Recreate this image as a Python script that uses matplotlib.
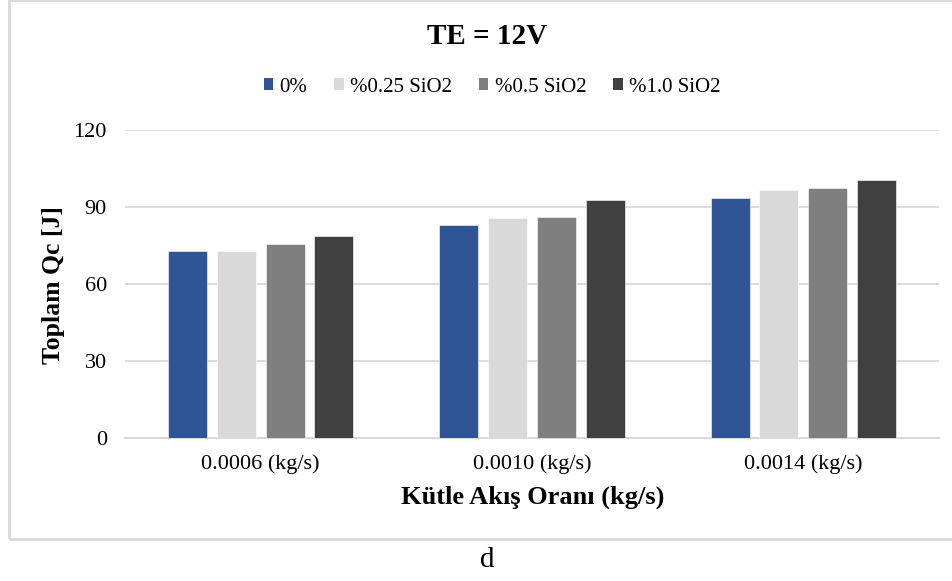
import matplotlib
matplotlib.use("Agg")
import matplotlib.pyplot as plt
from matplotlib.patches import Patch, Rectangle
import numpy as np

categories = ["0.0006 (kg/s)", "0.0010 (kg/s)", "0.0014 (kg/s)"]
series_names = ["0%", "%0.25 SiO2", "%0.5 SiO2", "%1.0 SiO2"]
values_0 = [73.0, 82.9, 93.5]
values_025 = [73.0, 85.7, 96.5]
values_05 = [75.4, 86.1, 97.3]
values_10 = [78.7, 92.7, 100.5]
colors = ["#2F5597", "#D9D9D9", "#7F7F7F", "#404040"]
yticks = [0, 30, 60, 90, 120]

plt.rcParams['font.family'] = ['Liberation Serif', 'DejaVu Serif']

W, H = 953, 581
fig = plt.figure(figsize=(W / 100, H / 100), dpi=100)

def fx(px):
    return px / W

def fy(py):
    return 1 - py / H

# outer chart frame
fig.patches.append(Rectangle((fx(9), fy(539)), fx(960) - fx(9), fy(0) - fy(539),
                             transform=fig.transFigure, fill=False,
                             edgecolor="#D9D9D9", linewidth=2, zorder=0))

ax = fig.add_axes([fx(125), fy(438), fx(939) - fx(125), fy(130) - fy(438)])

all_series = [values_0, values_025, values_05, values_10]
x = np.arange(len(categories))
pitch = 0.18
width = 0.1435
for j, (vals, col) in enumerate(zip(all_series, colors)):
    ax.bar(x + (j - 1.5) * pitch, vals, width=width, color=col, zorder=3,
           edgecolor="white", linewidth=0.4)

ax.set_xlim(-0.5, len(categories) - 0.5)
ax.set_ylim(0, 120)
ax.set_yticks(yticks)
ax.set_yticklabels([str(t) for t in yticks])
ax.set_xticks(x)
ax.set_xticklabels(categories)
ax.tick_params(axis='both', length=0, labelsize=16, colors="#000000")
ax.tick_params(axis='y', pad=13)
ax.tick_params(axis='x', pad=12)
ax.yaxis.grid(True, color="#D9D9D9", linewidth=1.3, zorder=0)
ax.set_axisbelow(True)
for s in ["top", "right", "left"]:
    ax.spines[s].set_visible(False)
ax.spines["bottom"].set_color("#D9D9D9")
ax.spines["bottom"].set_linewidth(1.5)

fig.text(fx(487), fy(36), "TE = 12V", ha="center", va="center",
         fontsize=21, fontweight="bold")
fig.text(fx(533), fy(497), "Kütle Akış Oranı (kg/s)", ha="center", va="center",
         fontsize=19, fontweight="bold")
fig.text(fx(54), fy(285), "Toplam Qc [J]", ha="center", va="center",
         rotation=90, fontsize=18.5, fontweight="bold")
fig.text(fx(487), fy(560), "d", ha="center", va="center", fontsize=21)

handles = [Patch(facecolor=c, edgecolor="none", label=n) for c, n in zip(colors, series_names)]
fig.legend(handles=handles, loc="center", bbox_to_anchor=(fx(492), fy(87)), ncol=4,
           frameon=False, fontsize=15, handlelength=0.45, handleheight=0.45,
           handletextpad=0.3, columnspacing=1.3, borderaxespad=0, borderpad=0)

fig.savefig("out.png", dpi=100)
